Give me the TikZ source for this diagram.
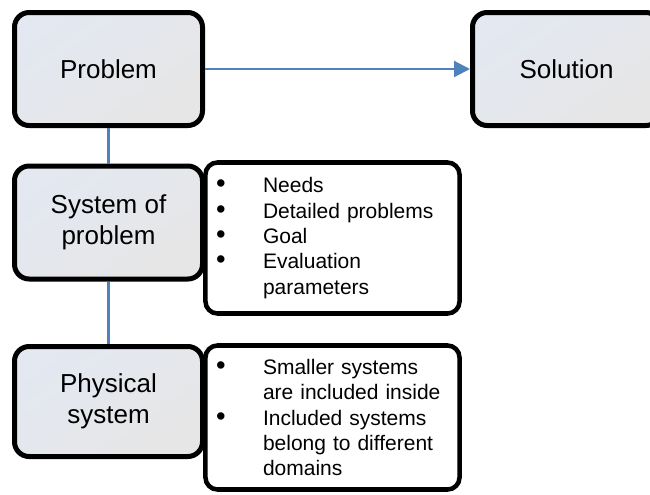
\documentclass[tikz,border=0pt]{standalone}
\usepackage{fontspec}
\setmainfont{Liberation Sans}
\usetikzlibrary{arrows.meta}
\definecolor{cbblue}{HTML}{4F81BD}
\definecolor{cbtop}{HTML}{E3E8F1}
\definecolor{cbbot}{HTML}{E6E6E6}

\tikzset{
  stagebox/.style={draw=black, line width=3.75pt, rounded corners=11pt,
    top color=cbtop, bottom color=cbbot, shading angle=35,
    minimum width=141pt, minimum height=84.75pt, align=center,
    font=\fontsize{19.5}{23.25}\selectfont},
  notebox/.style={draw=black, fill=white, line width=3.4pt, rounded corners=9pt,
    minimum width=190.5pt, text width=174.75pt, inner xsep=7.9pt, align=left,
    font=\fontsize{15.75}{19}\selectfont},
  link/.style={cbblue, line width=1.6pt}
}
\newcommand{\bul}{\makebox[35.25pt][l]{\scalebox{1.3}{\textbullet}}}

\begin{document}
\begin{tikzpicture}[x=0.75pt, y=-0.75pt]
\useasboundingbox (0,0) rectangle (650,494);

\node[stagebox] (problem) at (108.5,69) {Problem};
\node[stagebox] (solution) at (566.5,69) {Solution};
\node[stagebox] (sysprob) at (108.5,222.5) {System of\\problem};
\node[stagebox, minimum height=82.5pt] (physsys) at (108.5,401.5) {Physical\\system};

\node[notebox, minimum height=113.25pt] (needs) at (332.5,238) {%
  \bul Needs\\
  \bul Detailed problems\\
  \bul Goal\\
  \bul Evaluation\\
  \hspace*{35.25pt}parameters};
\node[notebox, minimum height=108pt] (domains) at (332.5,417.5) {%
  \bul Smaller systems\\
  \hspace*{35.25pt}are included inside\\
  \bul Included systems\\
  \hspace*{35.25pt}belong to different\\
  \hspace*{35.25pt}domains};

\draw[link, -{Triangle[length=12pt, width=12pt]}] (problem) -- (solution);
\draw[link] (problem) -- (sysprob);
\draw[link] (sysprob) -- (physsys);

\end{tikzpicture}
\end{document}
